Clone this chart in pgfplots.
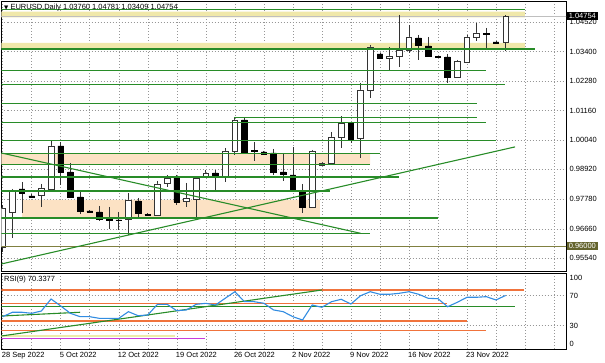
\documentclass[border=0pt]{standalone}
\usepackage{pgfplots}
\usepackage{pgfplotstable}
\pgfplotsset{compat=1.18}
\usepackage{fontspec}
\setmainfont{Liberation Sans}
\newfontfamily\symfont{DejaVu Sans}

\definecolor{lgreen}{RGB}{40,140,40}
\definecolor{band}{RGB}{240,232,170}
\definecolor{peach}{RGB}{252,226,196}
\definecolor{rsiorange}{RGB}{240,115,60}
\definecolor{rsiblue}{RGB}{50,140,225}
\definecolor{magent}{RGB}{200,60,220}
\definecolor{paleyel}{RGB}{236,236,170}
\definecolor{olive2}{RGB}{128,128,64}
\definecolor{olivebox}{RGB}{100,100,45}
\definecolor{gridc}{RGB}{150,150,150}

% candles: bar index, open, high, low, close
\pgfplotstableread{
i O H L C
0 0.95968 0.97566 0.95778 0.97452
1 0.97300 0.98175 0.96311 0.98137
2 0.98175 0.98442 0.97262 0.98023
3 0.97909 0.97985 0.97814 0.97871
4 0.97947 0.98366 0.97490 0.98213
5 0.98175 1.00002 0.98137 0.99812
6 0.99812 0.99964 0.98327 0.98822
7 0.98822 0.99165 0.97833 0.97871
8 0.97871 0.98061 0.97224 0.97338
9 0.97338 0.97357 0.97281 0.97300
10 0.97300 0.97528 0.96958 0.97034
11 0.97015 0.97490 0.96653 0.96996
12 0.96996 0.97300 0.96615 0.96977
13 0.97034 0.98023 0.96425 0.97757
14 0.97719 0.97833 0.97072 0.97262
15 0.97205 0.97243 0.97148 0.97186
16 0.97186 0.98480 0.97148 0.98366
17 0.98404 0.98708 0.98251 0.98594
18 0.98594 0.98708 0.97566 0.97681
19 0.97719 0.98404 0.97490 0.97833
20 0.97795 0.98632 0.97072 0.98594
21 0.98670 0.98898 0.98632 0.98784
22 0.98784 0.98898 0.98061 0.98670
23 0.98670 0.99735 0.98442 0.99621
24 0.99621 1.00877 0.99469 1.00801
25 1.00801 1.00915 0.99545 0.99583
26 0.99640 0.99964 0.99241 0.99621
27 0.99583 0.99621 0.99469 0.99507
28 0.99545 0.99697 0.98708 0.98822
29 0.98822 0.99545 0.98480 0.98746
30 0.98708 0.99773 0.98061 0.98099
31 0.98099 0.98366 0.97262 0.97490
32 0.97490 0.99659 0.97452 0.99621
33 0.99089 0.99203 0.99051 0.99165
34 0.99165 1.00344 0.99146 1.00154
35 1.00154 1.00953 0.99735 1.00687
36 1.00687 1.00725 0.99926 1.00078
37 1.00116 1.02209 0.99355 1.01943
38 1.01943 1.03655 1.01638 1.03579
39 1.03312 1.03350 1.03122 1.03160
40 1.03160 1.03579 1.02704 1.03236
41 1.03217 1.04797 1.02829 1.03446
42 1.03465 1.04416 1.03350 1.03959
43 1.03921 1.04035 1.03084 1.03655
44 1.03617 1.03959 1.03198 1.03236
45 1.03217 1.03236 1.03160 1.03198
46 1.03198 1.03312 1.02209 1.02437
47 1.02437 1.03084 1.02399 1.03046
48 1.03008 1.04035 1.02970 1.03959
49 1.03959 1.04492 1.03807 1.04112
50 1.04093 1.04302 1.03541 1.04074
51 1.03769 1.03788 1.03693 1.03731
52 1.03760 1.04781 1.03409 1.04754
}\candles

\pgfplotsset{
  geom/.style={
    scale only axis, width=564.5pt,
    xmin=-0.124, xmax=58.24,
    clip mode=individual,
  },
  pricegeom/.style={geom, at={(1.5pt,91.3pt)}, anchor=south west, height=270.2pt,
    ymin=0.95028, ymax=1.05310},
  common/.style={
    geom,
    axis line style={black, line width=0.7pt},
    tick style={draw=none},
    every tick label/.append style={font=\fontsize{7.5}{9}\selectfont, text=black},
    xtick={0,6,...,48}, minor xtick={3,9,...,57,54},
    xmajorgrids, xminorgrids, ymajorgrids,
    grid style={gridc, line width=0.5pt, dash pattern=on 1pt off 2pt},
    minor grid style={gridc, line width=0.5pt, dash pattern=on 1pt off 2pt},
    yticklabel pos=right,
    yticklabel style={anchor=west, inner sep=0pt, xshift=3.5pt},
  },
  hl/.style={lgreen, line width=1.1pt, mark=none},
  ol/.style={rsiorange, line width=1.1pt, mark=none},
}

\begin{document}
\begin{tikzpicture}
\path[use as bounding box] (0,0) rectangle (605pt,363pt);

% ---------------- price panel: frame, grid, bands, wicks ----------------
\begin{axis}[common, pricegeom,
  xticklabels={},
  ytick={1.0452,1.0340,1.0228,1.0116,1.0004,0.9892,0.9778,0.9666,0.9554},
  yticklabels={1.04520,1.03400,1.02280,1.01160,1.00040,0.98920,0.97780,0.96660,0.95540},
]
\addplot[fill=band, draw=none] coordinates {(-0.2,1.04709) (54.0,1.04709) (54.0,1.04922) (-0.2,1.04922) (-0.2,1.04709)};
\addplot[fill=band, draw=none] coordinates {(-0.2,1.03522) (54.0,1.03522) (54.0,1.03731) (-0.2,1.03731) (-0.2,1.03522)};
\addplot[fill=peach, draw=none] coordinates {(-0.2,0.99108) (38.0,0.99108) (38.0,0.99534) (-0.2,0.99534) (-0.2,0.99108)};
\addplot[fill=peach, draw=none] coordinates {(2.0,0.97110) (32.8,0.97110) (32.8,0.97757) (2.0,0.97757) (2.0,0.97110)};
\addplot[black!25, line width=0.7pt, mark=none] coordinates {(-0.2,1.04754) (58.3,1.04754)};
% wicks
\addplot[draw=none, mark=none,
  error bars/.cd, y dir=minus, y explicit, error mark=none,
  error bar style={draw=black!80, line width=0.7pt, solid}]
  table[x=i, y=H, y error minus expr=\thisrow{H}-\thisrow{L}] {\candles};
\end{axis}

% ---------------- candle bodies (stacked bars) ----------------
\begin{axis}[pricegeom, hide axis, ybar stacked, bar width=5.6pt]
\addplot[draw=none, fill=none] table[x=i, y expr={min(\thisrow{O},\thisrow{C})}] {\candles};
\addplot[fill=white, draw=black!80, line width=0.7pt] table[x=i, y expr={ifthenelse(\thisrow{C}>=\thisrow{O}, \thisrow{C}-\thisrow{O}, 0)}] {\candles};
\addplot[fill=black, draw=black, line width=0.7pt] table[x=i, y expr={ifthenelse(\thisrow{C}<\thisrow{O}, \thisrow{O}-\thisrow{C}, 0)}] {\candles};
\end{axis}

% ---------------- drawn objects over the price panel ----------------
\begin{axis}[pricegeom, hide axis]
\addplot[hl] coordinates {(-0.2,1.05013) (54.0,1.05013)};
\addplot[hl] coordinates {(-0.2,1.03503) (55.0,1.03503)};
\addplot[hl] coordinates {(-0.2,1.02677) (50.0,1.02677)};
\addplot[hl] coordinates {(-0.2,1.02160) (51.9,1.02160)};
\addplot[hl] coordinates {(-0.2,1.01437) (49.0,1.01437)};
\addplot[hl] coordinates {(23.9,1.00904) (49.0,1.00904)};
\addplot[hl] coordinates {(-0.2,1.00706) (50.0,1.00706)};
\addplot[hl] coordinates {(-0.2,1.00013) (51.0,1.00013)};
\addplot[hl] coordinates {(-0.2,0.99534) (39.0,0.99534)};
\addplot[hl] coordinates {(-0.2,0.99108) (38.0,0.99108)};
\addplot[hl] coordinates {(-0.2,0.98632) (41.0,0.98632)};
\addplot[hl] coordinates {(-0.2,0.98099) (33.8,0.98099)};
\addplot[hl] coordinates {(-0.2,0.97072) (45.0,0.97072)};
\addplot[hl] coordinates {(-0.2,0.96490) (38.0,0.96490)};
\addplot[olive2, line width=1.1pt, mark=none] coordinates {(-0.2,0.96000) (58.3,0.96000)};
\addplot[hl] coordinates {(-0.124,0.99545) (37.0,0.96489)};
\addplot[hl] coordinates {(-0.124,0.95323) (52.97,0.99777)};

\node[anchor=north west, inner sep=0pt, xshift=2.5pt, yshift=-2pt, font=\fontsize{7.5}{9}\selectfont]
  at (rel axis cs:0,1) {{\symfont\fontsize{5.5}{6}\selectfont ▼}\ EURUSD,Daily 1.03760 1.04781 1.03409 1.04754};
\node[anchor=west, fill=black, text=white, inner xsep=1.6pt, inner ysep=1.2pt, xshift=1pt, font=\fontsize{7.5}{9}\selectfont]
  at (axis cs:58.24,1.04754) {1.04754};
\node[anchor=west, fill=olivebox, text=white, inner xsep=1.6pt, inner ysep=1.2pt, xshift=1pt, font=\fontsize{7.5}{9}\selectfont]
  at (axis cs:58.24,0.96000) {0.96000};
\end{axis}

% ---------------- RSI panel ----------------
\begin{axis}[common,
  at={(1.5pt,14pt)}, anchor=south west, height=75.8pt,
  ymin=-1.07, ymax=100,
  xticklabels={28 Sep 2022,5 Oct 2022,12 Oct 2022,19 Oct 2022,26 Oct 2022,2 Nov 2022,9 Nov 2022,16 Nov 2022,23 Nov 2022},
  xticklabel style={anchor=north west, inner sep=0pt, xshift=-1pt, yshift=-2.8pt},
  ytick={30,70}, yticklabels={30,70},
]
\addplot[ol] coordinates {(-0.2,77.6) (53.9,77.6)};
\addplot[ol] coordinates {(-0.2,60) (45.9,60)};
\addplot[hl] coordinates {(-0.2,55) (53.0,55)};
\addplot[ol] coordinates {(-0.2,36.3) (48.0,36.3)};
\addplot[ol] coordinates {(-0.2,23) (50.0,23)};
\addplot[paleyel, line width=1.1pt, mark=none] coordinates {(-0.2,16.3) (17.8,16.3)};
\addplot[magent, line width=1.1pt, mark=none] coordinates {(-0.2,13.2) (20.9,13.2)};
\addplot[hl] coordinates {(-0.124,42.9) (8.0,47.9)};
\addplot[hl] coordinates {(-0.124,16.3) (33.0,77.6)};
\addplot[rsiblue, line width=1.1pt, mark=none] coordinates {
(0,42) (1,47.9) (2,47.9) (3,46.5) (4,49.6) (5,65.6) (6,56.3) (7,46.5) (8,42) (9,42)
(10,39.8) (11,39.8) (12,39.8) (13,48.7) (14,43.3) (15,44.3) (16,58.5) (17,58.5) (18,50) (19,51)
(20,58.5) (21,59.8) (22,57.6) (23,66.5) (24,75.3) (25,62) (26,62) (27,59.9) (28,51) (29,48.7)
(30,42) (31,37.6) (32,57.6) (33,54.5) (34,62) (35,65.2) (36,58.9) (37,70) (38,75.3) (39,71.9)
(40,71.9) (41,73.2) (42,75.3) (43,71.9) (44,66.5) (45,66) (46,55.3) (47,61.2) (48,67.9) (49,67.9)
(50,68.7) (51,64.3) (52,70.3377)};
\node[anchor=north west, inner sep=0pt, xshift=2.5pt, yshift=-3pt, font=\fontsize{7.5}{9}\selectfont]
  at (rel axis cs:0,1) {RSI(9) 70.3377};
\node[anchor=north west, inner sep=0pt, xshift=3.5pt, yshift=-2pt, font=\fontsize{7.5}{9}\selectfont]
  at (rel axis cs:1,1) {100};
\node[anchor=south west, inner sep=0pt, xshift=3.5pt, yshift=2pt, font=\fontsize{7.5}{9}\selectfont]
  at (rel axis cs:1,0) {0};
\end{axis}
\end{tikzpicture}
\end{document}
